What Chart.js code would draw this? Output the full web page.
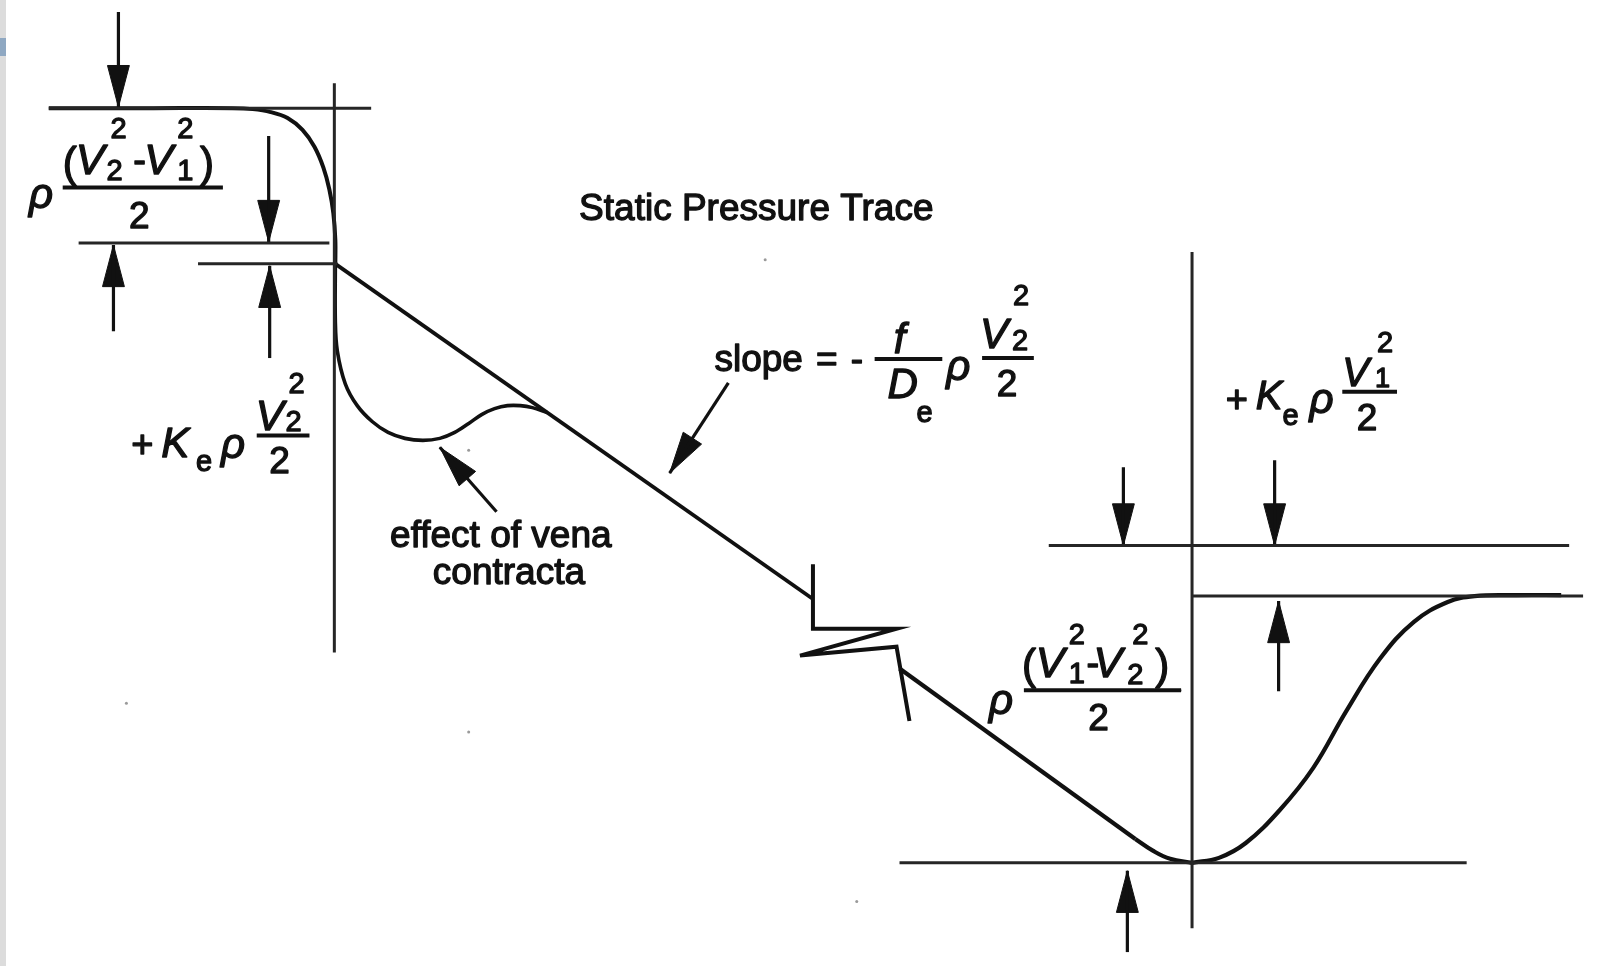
<!DOCTYPE html>
<html>
<head>
<meta charset="utf-8">
<script src="https://cdn.jsdelivr.net/npm/chart.js@4.4.1/dist/chart.umd.min.js"></script>
<style>
  html, body { margin: 0; padding: 0; background: #ffffff; }
  #wrap { position: relative; width: 1603px; height: 966px; }
  #strip { position: absolute; left: 0; top: 0; width: 6px; height: 966px; background: #dcdcdc; }
  #tab { position: absolute; left: 0; top: 38px; width: 6px; height: 18px; background: #8fa8c2; }
</style>
</head>
<body>
<div id="wrap">
  <canvas id="c" width="1603" height="966"></canvas>
  <div id="strip"></div>
  <div id="tab"></div>
</div>
<script>
// ---------- data (diagram coordinates: x to the right, y downward) ----------
const inletTrace = [[45,105],[150,105],[230,105],[250,106],[268,109],[285,115],[300,127],[312,144],[321,165],[327,187],[331,211],[333,238],[333,262]];
const frictionUpper = [[333,262],[813,600]];
const venaContracta = [[333,262],[333,320],[335,350],[343,383],[355,405],[370,421],[386,432],[403,438],[421,440],[438,438],[453,432],[467,423],[480,414],[493,408],[506,405],[519,405],[531,407],[546,412]];
const breakSymbol = [[813,565],[813,630],[897,630],[800,657],[897,648],[910,723]];
const frictionLower = [[900,670],[1137,842]];
const outletDip = [[1137,842],[1155,854],[1172,862],[1194,866]];
const recovery = [[1194,866],[1221,861],[1248,846],[1282,813],[1316,770],[1349,713],[1383,660],[1417,623],[1451,603],[1478,597],[1520,596],[1565,596]];

const verticalRefs = [[[332,80],[332,654]], [[1194,250],[1194,932]]];
const levelLines = [
  [[45,105],[369,105]],
  [[75,241],[327,241]],
  [[195,262],[335,262]],
  [[1050,546],[1573,546]],
  [[1195,597],[1587,597]],
  [[900,866],[1470,866]]
];
const fractionBars = [
  [[59,185],[220,185]],
  [[254,435],[307,435]],
  [[875,358],[943,358]],
  [[983,357],[1035,357]],
  [[1345,391],[1400,391]],
  [[1025,692],[1183,692]]
];
// arrows: tail -> tip
const arrows = [
  [[115,8],[115,104]],
  [[266,133],[266,240]],
  [[110,330],[110,243]],
  [[267,357],[267,264]],
  [[1125,467],[1125,546]],
  [[1277,460],[1277,546]],
  [[1281,693],[1281,602]],
  [[1129,956],[1129,874]],
  [[728,382],[669,473]],
  [[495,512],[438,447]]
];
const specks = [[123,705],[467,734],[857,905],[1182,692],[467,450],[765,258]];

// text runs: [text, x, baseline y, size, italic, align]
const labels = [
  ["Static Pressure Trace", 578, 218, 37, false, "left"],
  ["slope", 714, 370, 37, false, "left"],
  ["=", 816, 370, 37, false, "left"],
  ["-", 851, 370, 37, false, "left"],
  ["effect of vena", 388, 548, 37, false, "left"],
  ["contracta", 431, 585, 37, false, "left"],
  // rho (V2^2 - V1^2)/2  (top left)
  ["\u03C1", 25, 206, 42, true, "left"],
  ["(", 59, 174, 42, false, "left"],
  ["V", 72, 171, 43, true, "left"],
  ["2", 103, 177, 29, false, "left"],
  ["2", 107, 135, 29, false, "left"],
  ["-", 130, 170, 38, false, "left"],
  ["V", 141, 171, 43, true, "left"],
  ["1", 174, 177, 29, false, "left"],
  ["2", 174, 135, 29, false, "left"],
  [")", 197, 174, 42, false, "left"],
  ["2", 136, 226, 37, false, "center"],
  // + Ke rho V2^2/2 (left)
  ["+", 139, 457, 38, false, "center"],
  ["K", 158, 457, 42, true, "left"],
  ["e", 193, 471, 29, false, "left"],
  ["\u03C1", 218, 458, 42, true, "left"],
  ["V", 253, 430, 42, true, "left"],
  ["2", 283, 431, 29, false, "left"],
  ["2", 286, 392, 29, false, "left"],
  ["2", 277, 473, 37, false, "center"],
  // slope formula
  ["f", 900, 352, 42, true, "center"],
  ["D", 888, 397, 42, true, "left"],
  ["e", 917, 421, 29, false, "left"],
  ["\u03C1", 947, 379, 42, true, "left"],
  ["V", 981, 347, 42, true, "left"],
  ["2", 1013, 349, 29, false, "left"],
  ["2", 1014, 304, 29, false, "left"],
  ["2", 1008, 395, 37, false, "center"],
  // + Ke rho V1^2/2 (right)
  ["+", 1239, 411, 38, false, "center"],
  ["K", 1258, 408, 40, true, "left"],
  ["e", 1285, 425, 29, false, "left"],
  ["\u03C1", 1312, 412, 42, true, "left"],
  ["V", 1345, 385, 40, true, "left"],
  ["1", 1378, 386, 27, false, "left"],
  ["2", 1380, 351, 29, false, "left"],
  ["2", 1370, 430, 37, false, "center"],
  // rho (V1^2 - V2^2)/2 (bottom)
  ["\u03C1", 990, 716, 42, true, "left"],
  ["(", 1023, 681, 42, false, "left"],
  ["V", 1037, 679, 43, true, "left"],
  ["1", 1070, 685, 29, false, "left"],
  ["2", 1070, 645, 29, false, "left"],
  ["-", 1088, 678, 38, false, "left"],
  ["V", 1095, 679, 43, true, "left"],
  ["2", 1129, 686, 29, false, "left"],
  ["2", 1134, 645, 29, false, "left"],
  [")", 1157, 681, 42, false, "left"],
  ["2", 1100, 732, 37, false, "center"]
];

// ---------- build datasets ----------
const P = a => a.map(([x, y]) => ({x, y}));
const INK = '#111111';
const datasets = [];
function addLine(pts, width, tension, color) {
  datasets.push({ data: P(pts), showLine: true, borderColor: color || INK, borderWidth: width,
    pointRadius: 0, tension: tension || 0, fill: false, borderCapStyle: 'butt', borderJoinStyle: 'miter' });
}
verticalRefs.forEach(l => addLine(l, 3, 0, '#262626'));
levelLines.forEach(l => addLine(l, 3, 0, '#262626'));
fractionBars.forEach(l => addLine(l, 4, 0));
addLine(inletTrace, 4, 0.35);
addLine(frictionUpper, 3.8, 0);
addLine(venaContracta, 3.6, 0.35);
addLine(breakSymbol, 4, 0);
addLine(frictionLower, 4.2, 0);
addLine(outletDip, 4.2, 0.4);
addLine(recovery, 4.2, 0.4);
arrows.forEach(([t, h]) => {
  addLine([t, h], 3.2, 0);
  const dx = h[0] - t[0], dy = h[1] - t[1], len = Math.hypot(dx, dy);
  const ux = dx / len, uy = dy / len, L = 42, W = 11;
  const bx = h[0] - ux * L, by = h[1] - uy * L;
  const tri = [h, [bx - uy * W, by + ux * W], [bx + uy * W, by - ux * W], h];
  datasets.push({ data: P(tri), showLine: true, borderColor: INK, backgroundColor: INK, borderWidth: 1,
    pointRadius: 0, tension: 0, fill: 'shape' });
});
datasets.push({ data: P(specks), showLine: false, pointRadius: 1.5, pointBackgroundColor: '#9a9a9a', pointBorderWidth: 0 });

const textPlugin = {
  id: 'mathText',
  afterDatasetsDraw(chart) {
    const ctx = chart.ctx, xs = chart.scales.x, ys = chart.scales.y;
    ctx.save();
    ctx.fillStyle = INK;
    ctx.strokeStyle = INK;
    ctx.lineWidth = 1.3;
    ctx.lineJoin = 'round';
    ctx.textBaseline = 'alphabetic';
    labels.forEach(([t, x, y, size, italic, align]) => {
      ctx.font = (italic ? 'italic ' : '') + size + 'px "Liberation Sans", Arial, sans-serif';
      ctx.textAlign = align;
      const px = xs.getPixelForValue(x), py = ys.getPixelForValue(y);
      ctx.fillText(t, px, py);
      ctx.strokeText(t, px, py);
    });
    ctx.restore();
  }
};

new Chart(document.getElementById('c'), {
  type: 'scatter',
  data: { datasets },
  options: {
    responsive: false,
    animation: false,
    events: [],
    layout: { padding: 0 },
    plugins: { legend: { display: false }, tooltip: { enabled: false } },
    scales: {
      x: { type: 'linear', min: 0, max: 1603, display: false },
      y: { type: 'linear', min: 0, max: 966, reverse: true, display: false }
    }
  },
  plugins: [textPlugin]
});
</script>
</body>
</html>
